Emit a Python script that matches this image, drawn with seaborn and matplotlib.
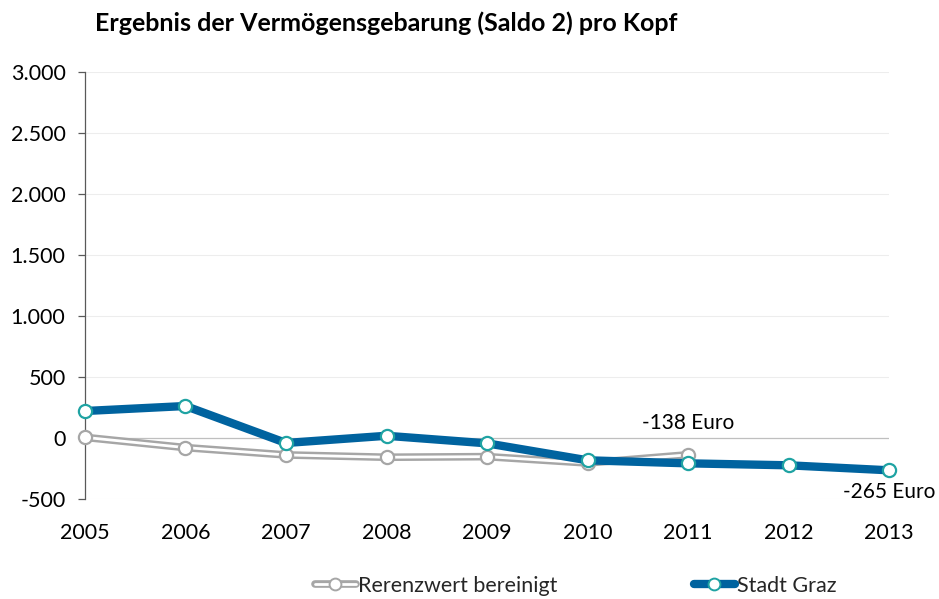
import matplotlib
matplotlib.use("Agg")
import matplotlib.pyplot as plt
import matplotlib.patheffects as pe
from matplotlib.lines import Line2D
from matplotlib.legend_handler import HandlerTuple
from matplotlib.ticker import FuncFormatter
import seaborn as sns
import pandas as pd

years = [2005, 2006, 2007, 2008, 2009, 2010, 2011, 2012, 2013]
stadt_graz = [221, 262, -41, 18, -44, -183, -208, -224, -265]
referenz_years = [2005, 2006, 2007, 2008, 2009, 2010, 2011]
referenz = [5, -79, -139, -158, -153, -205, -138]
series_names = ["Rerenzwert bereinigt", "Stadt Graz"]
yticks = [-500, 0, 500, 1000, 1500, 2000, 2500, 3000]
title = "Ergebnis der Vermögensgebarung (Saldo 2) pro Kopf"

sns.set_theme(style="white")
plt.rcParams['font.family'] = ['Lato', 'DejaVu Sans']

GRAY = "#A6A6A6"
BLUE = "#00639F"
TEAL = "#1FA3A3"

fig = plt.figure(figsize=(9.39, 5.99), dpi=100)
ax = fig.add_axes([0.0905, 0.167, 0.8563, 0.7128])

df_ref = pd.DataFrame({"Jahr": referenz_years, "Wert": referenz})
df_gz = pd.DataFrame({"Jahr": years, "Wert": stadt_graz})

# gridlines
for t in yticks:
    if t == 0:
        continue
    ax.axhline(t, color="#EDEDED", lw=0.8, zorder=0)
ax.axhline(0, color="#BFBFBF", lw=0.9, zorder=1)

# reference series: double gray line
sns.lineplot(data=df_ref, x="Jahr", y="Wert", ax=ax, color="white", lw=2.0,
             zorder=3, legend=False,
             path_effects=[pe.Stroke(linewidth=5.5, foreground=GRAY), pe.Normal()])
sns.scatterplot(data=df_ref, x="Jahr", y="Wert", ax=ax, color="white",
                edgecolor=GRAY, linewidth=1.6, s=90, zorder=4, legend=False,
                clip_on=False)

# Stadt Graz
sns.lineplot(data=df_gz, x="Jahr", y="Wert", ax=ax, color=BLUE, lw=6,
             zorder=5, legend=False, solid_capstyle="butt")
sns.scatterplot(data=df_gz, x="Jahr", y="Wert", ax=ax, color="white",
                edgecolor=TEAL, linewidth=1.6, s=90, zorder=6, legend=False,
                clip_on=False)

ax.set_xlim(2005, 2013)
ax.set_ylim(-500, 3000)
ax.set_yticks(yticks)
ax.yaxis.set_major_formatter(FuncFormatter(lambda v, p: f"{int(v):,}".replace(",", ".")))
ax.set_xticks(years)
ax.set_xticklabels([str(y) for y in years])
ax.set_xlabel("")
ax.set_ylabel("")

for s in ["top", "right", "bottom"]:
    ax.spines[s].set_visible(False)
ax.spines["left"].set_color("#595959")
ax.spines["left"].set_linewidth(0.9)
ax.tick_params(axis="y", direction="out", length=5, width=0.9, color="#595959",
               labelsize=15.5, pad=9, labelcolor="black", left=True)
ax.tick_params(axis="x", length=0, labelsize=15.5, pad=17, labelcolor="black")

ax.annotate("-138 Euro", xy=(2011, -138), xytext=(2011, 40), ha="center",
            va="bottom", fontsize=15, color="black")
ax.annotate("-265 Euro", xy=(2013, -265), xytext=(2013, -440), ha="center",
            va="center", fontsize=15, color="black", annotation_clip=False)

fig.text(0.101, 0.962, title, fontsize=18, fontweight="bold", ha="left",
         va="center", color="black")

# legend
h_ref_line = Line2D([], [], color="white", lw=2.0,
                    path_effects=[pe.Stroke(linewidth=5.5, foreground=GRAY), pe.Normal()])
h_ref_mk = Line2D([], [], ls="none", marker="o", markersize=8.5,
                  markerfacecolor="white", markeredgecolor=GRAY, markeredgewidth=1.4)
h_gz_line = Line2D([], [], color=BLUE, lw=6)
h_gz_mk = Line2D([], [], ls="none", marker="o", markersize=8.5,
                 markerfacecolor="white", markeredgecolor=TEAL, markeredgewidth=1.4)
fig.legend([(h_ref_line, h_ref_mk), (h_gz_line, h_gz_mk)], series_names,
           handler_map={tuple: HandlerTuple(ndivide=1)},
           loc="center", bbox_to_anchor=(0.613, 0.022), ncol=2, frameon=False,
           fontsize=15.5, handlelength=1.9, handletextpad=0.1, columnspacing=6.35)

fig.savefig("out.png", dpi=100)
